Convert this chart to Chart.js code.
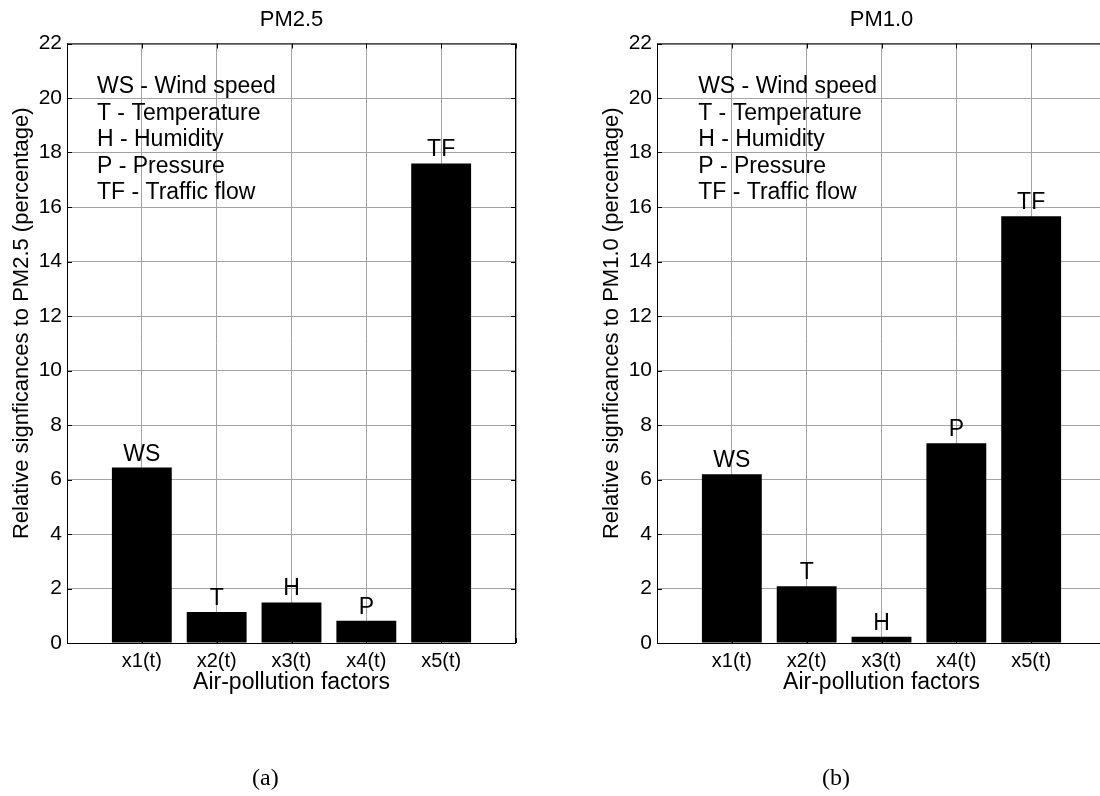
<!DOCTYPE html>
<html>
<head>
<meta charset="utf-8">
<script src="https://cdn.jsdelivr.net/npm/chart.js@4.4.1/dist/chart.umd.min.js"></script>
<style>
  html, body { margin: 0; padding: 0; width: 1100px; height: 796px; overflow: hidden; background: #fff; }
  .box { position: absolute; top: 0; width: 560px; height: 796px; }
  .cap { position: absolute; top: 764px; font-family: "Liberation Serif", "Times New Roman", serif; font-size: 24px; color: #000; }
</style>
</head>
<body>
<div class="box" style="left:0"><canvas id="chartA"></canvas></div>
<div class="box" style="left:590px"><canvas id="chartB"></canvas></div>
<div class="cap" style="left:252px">(a)</div>
<div class="cap" style="left:822px">(b)</div>
<script>
// categorias e valores
const factors = ['x1(t)', 'x2(t)', 'x3(t)', 'x4(t)', 'x5(t)'];
const shortNames = ['WS', 'T', 'H', 'P', 'TF'];
const legendLines = ['WS - Wind speed', 'T - Temperature', 'H - Humidity', 'P - Pressure', 'TF - Traffic flow'];
const pm25Values = [6.44, 1.14, 1.49, 0.82, 17.6];
const pm10Values = [6.19, 2.08, 0.23, 7.33, 15.66];
const yMax = 22;
const yStep = 2;

const FONT = '"Liberation Sans", Arial, sans-serif';
const GRID = '#a3a3a3';

// caixa preta + marcas internas (estilo matlab) + titulo do eixo y
const boxPlugin = {
  id: 'boxPlugin',
  afterDraw(chart, args, opts) {
    const { ctx, chartArea: a, scales } = chart;
    ctx.save();
    ctx.strokeStyle = '#000';
    ctx.lineWidth = 1;
    ctx.strokeRect(a.left + 0.5, a.top + 0.5, a.right - a.left - 1, a.bottom - a.top);
    ctx.beginPath();
    scales.y.ticks.forEach(t => {
      const py = Math.round(scales.y.getPixelForValue(t.value)) + 0.5;
      ctx.moveTo(a.left, py); ctx.lineTo(a.left + 5, py);
      ctx.moveTo(a.right, py); ctx.lineTo(a.right - 5, py);
    });
    scales.x.ticks.forEach(t => {
      const px = Math.round(scales.x.getPixelForValue(t.value)) + 0.5;
      ctx.moveTo(px, a.top); ctx.lineTo(px, a.top + 5);
      ctx.moveTo(px, a.bottom); ctx.lineTo(px, a.bottom - 5);
    });
    ctx.stroke();

    // titulo do eixo y (um pouco acima do centro, como no original)
    ctx.fillStyle = '#000';
    ctx.font = '22px ' + FONT;
    ctx.textAlign = 'center';
    ctx.textBaseline = 'middle';
    ctx.translate(22, (a.top + a.bottom) / 2 - 20);
    ctx.rotate(-Math.PI / 2);
    ctx.fillText(opts.yLabel, 0, 0);
    ctx.restore();
  }
};

// rotulos acima das barras e o texto da legenda
const textPlugin = {
  id: 'textPlugin',
  afterDatasetsDraw(chart, args, opts) {
    const { ctx, scales } = chart;
    ctx.save();
    ctx.fillStyle = '#000';
    ctx.font = '23px ' + FONT;
    ctx.textAlign = 'center';
    ctx.textBaseline = 'alphabetic';
    chart.getDatasetMeta(0).data.forEach((bar, i) => {
      ctx.fillText(shortNames[i], bar.x, bar.y - 7);
    });
    ctx.textAlign = 'left';
    ctx.textBaseline = 'middle';
    const lx = scales.x.getPixelForValue(opts.legendX);
    const ly = scales.y.getPixelForValue(opts.legendY);
    legendLines.forEach((line, i) => ctx.fillText(line, lx, ly + i * 26.5));
    ctx.restore();
  }
};

function makeChart(id, title, values, yLabel, legendX) {
  return new Chart(document.getElementById(id), {
    type: 'bar',
    data: {
      datasets: [{
        data: values.map((v, i) => ({ x: i + 1, y: v })),
        backgroundColor: '#000',
        borderWidth: 0,
        barPercentage: 0.8,
        categoryPercentage: 1
      }]
    },
    options: {
      responsive: true,
      maintainAspectRatio: false,
      animation: false,
      layout: { padding: { top: 0, left: 0, right: 44, bottom: 99 } },
      plugins: {
        legend: { display: false },
        tooltip: { enabled: false },
        title: {
          display: true,
          text: title,
          fullSize: false,
          color: '#000',
          font: { family: FONT, size: 22, weight: 'normal' },
          padding: { top: 7, bottom: 10.1 }
        },
        textPlugin: { legendX: legendX, legendY: 20.4 },
        boxPlugin: { yLabel: yLabel }
      },
      scales: {
        x: {
          type: 'linear',
          min: 0,
          max: factors.length + 1,
          offset: false,
          afterFit: s => { s.height = 54; },
          ticks: {
            stepSize: 1,
            autoSkip: false,
            maxRotation: 0,
            padding: 6,
            color: '#000',
            font: { family: FONT, size: 20 },
            callback: v => factors[v - 1] || ''
          },
          grid: { color: GRID, drawTicks: false, offset: false },
          border: { display: false },
          title: {
            display: true,
            text: 'Air-pollution factors',
            color: '#000',
            font: { family: FONT, size: 23 },
            padding: { top: 0, bottom: 1 }
          }
        },
        y: {
          min: 0,
          max: yMax,
          afterFit: s => { s.width = 67; },
          ticks: {
            stepSize: yStep,
            padding: 5,
            color: '#000',
            font: { family: FONT, size: 21 }
          },
          grid: { color: GRID, drawTicks: false },
          border: { display: false }
        }
      }
    },
    plugins: [boxPlugin, textPlugin]
  });
}

makeChart('chartA', 'PM2.5', pm25Values, 'Relative signficances to PM2.5 (percentage)', 0.4);
makeChart('chartB', 'PM1.0', pm10Values, 'Relative signficances to PM1.0 (percentage)', 0.55);
</script>
</body>
</html>
